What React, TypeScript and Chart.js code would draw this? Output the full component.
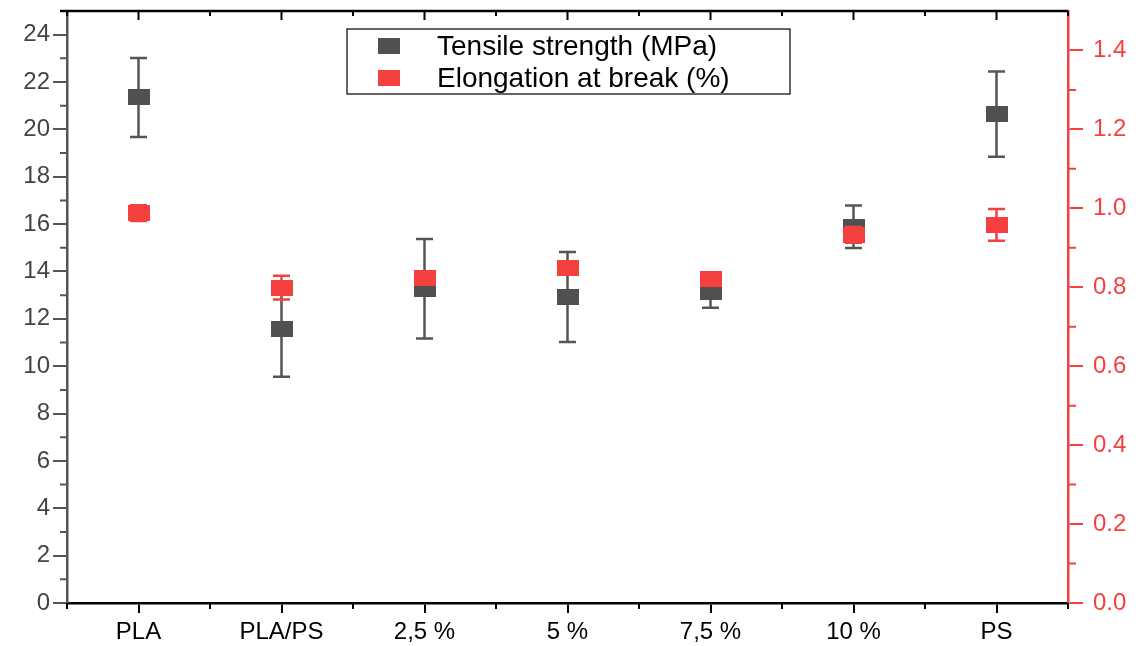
import React, { useEffect, useRef } from 'react';
import { Chart, registerables } from 'chart.js';

Chart.register(...registerables);

const categories = ['PLA', 'PLA/PS', '2,5 %', '5 %', '7,5 %', '10 %', 'PS'];
const tensileStrength = [21.35, 11.55, 13.27, 12.92, 13.15, 15.89, 20.65];
const tensileError = [1.67, 2.0, 2.1, 1.9, 0.68, 0.9, 1.8];
const elongationAtBreak = [0.988, 0.799, 0.823, 0.85, 0.82, 0.933, 0.958];
const elongationError = [0.02, 0.03, 0.015, 0.015, 0.015, 0.02, 0.04];
const seriesLabels = ['Tensile strength (MPa)', 'Elongation at break (%)'];

const GRAY = '#505050';
const RED = 'rgb(245,64,64)';
const FONT = '"Liberation Sans", Arial, sans-serif';

function makeMarker(color: string) {
  const c = document.createElement('canvas');
  c.width = 22;
  c.height = 16;
  const g = c.getContext('2d')!;
  g.fillStyle = color;
  g.fillRect(0, 0, 22, 16);
  return c;
}

const errorBarPlugin = {
  id: 'errorBars',
  beforeDatasetDraw(chart: any, args: any) {
    const ds = chart.data.datasets[args.index];
    const errs: number[] = ds.errors;
    if (!errs) return;
    const meta = args.meta;
    const yScale = chart.scales[meta.yAxisID];
    const ctx = chart.ctx;
    ctx.save();
    ctx.strokeStyle = ds.errorColor;
    ctx.lineWidth = 2.5;
    meta.data.forEach((el: any, i: number) => {
      const v = ds.data[i];
      const e = errs[i];
      const x = el.x;
      const yT = yScale.getPixelForValue(v + e);
      const yB = yScale.getPixelForValue(v - e);
      ctx.beginPath();
      ctx.moveTo(x, yT);
      ctx.lineTo(x, yB);
      ctx.moveTo(x - 8.5, yT);
      ctx.lineTo(x + 8.5, yT);
      ctx.moveTo(x - 8.5, yB);
      ctx.lineTo(x + 8.5, yB);
      ctx.stroke();
    });
    ctx.restore();
  },
};

const framePlugin = {
  id: 'frame',
  afterDraw(chart: any) {
    const ctx = chart.ctx;
    const { left, right, top, bottom } = chart.chartArea;
    const x = chart.scales.x;
    const y = chart.scales.y;
    const y1 = chart.scales.y1;
    ctx.save();
    // top axis
    ctx.strokeStyle = '#000';
    ctx.lineWidth = 2.5;
    ctx.beginPath();
    ctx.moveTo(left - 7, top);
    ctx.lineTo(right, top);
    ctx.stroke();
    ctx.lineWidth = 2;
    const n = categories.length;
    const bounds: number[] = [];
    for (let i = 0; i <= n; i++) {
      if (i === 0) bounds.push(left);
      else if (i === n) bounds.push(right);
      else bounds.push((x.getPixelForValue(i - 1) + x.getPixelForValue(i)) / 2);
    }
    ctx.beginPath();
    for (let i = 0; i < n; i++) {
      const px = x.getPixelForValue(i);
      ctx.moveTo(px, top);
      ctx.lineTo(px, top + 9);
    }
    bounds.forEach((px) => {
      ctx.moveTo(px, top);
      ctx.lineTo(px, top + 5);
      ctx.moveTo(px, bottom);
      ctx.lineTo(px, bottom + 6);
    });
    ctx.stroke();
    // left minor ticks
    ctx.strokeStyle = '#555';
    ctx.beginPath();
    for (let v = 1; v < 25; v += 2) {
      const py = y.getPixelForValue(v);
      ctx.moveTo(left - 7, py);
      ctx.lineTo(left, py);
    }
    ctx.stroke();
    // right minor ticks
    ctx.strokeStyle = RED;
    ctx.beginPath();
    for (let k = 1; k < 15; k += 2) {
      const py = y1.getPixelForValue(k / 10);
      ctx.moveTo(right, py);
      ctx.lineTo(right + 8, py);
    }
    ctx.stroke();
    ctx.restore();
  },
};

const legendPlugin = {
  id: 'boxLegend',
  afterDraw(chart: any) {
    const ctx = chart.ctx;
    const { left, top } = chart.chartArea;
    const bx = left + 280;
    const by = top + 18;
    const bw = 443;
    const bh = 65;
    ctx.save();
    ctx.fillStyle = '#fff';
    ctx.fillRect(bx, by, bw, bh);
    ctx.strokeStyle = '#000';
    ctx.lineWidth = 1.2;
    ctx.strokeRect(bx, by, bw, bh);
    chart.data.datasets.forEach((ds: any, i: number) => {
      const cy = by + 17 + i * 32;
      ctx.drawImage(ds.pointStyle, bx + 31, cy - 8);
      ctx.fillStyle = '#000';
      ctx.font = `28px ${FONT}`;
      ctx.textBaseline = 'middle';
      ctx.textAlign = 'left';
      ctx.fillText(ds.label, bx + 90, cy + 1);
    });
    ctx.restore();
  },
};

export default function App() {
  const ref = useRef<HTMLCanvasElement>(null);
  useEffect(() => {
    document.body.style.margin = '0';
    const canvas = ref.current!;
    const chart = new Chart(canvas, {
      type: 'line',
      data: {
        labels: categories,
        datasets: [
          {
            label: seriesLabels[0],
            data: tensileStrength,
            yAxisID: 'y',
            showLine: false,
            pointStyle: makeMarker(GRAY) as any,
            pointRadius: 10,
            order: 2,
            errors: tensileError,
            errorColor: '#555',
          } as any,
          {
            label: seriesLabels[1],
            data: elongationAtBreak,
            yAxisID: 'y1',
            showLine: false,
            pointStyle: makeMarker(RED) as any,
            pointRadius: 10,
            order: 1,
            errors: elongationError,
            errorColor: RED,
          } as any,
        ],
      },
      options: {
        animation: false,
        responsive: false,
        layout: { padding: { top: 10, left: 0, right: 0, bottom: 0 } },
        plugins: { legend: { display: false }, tooltip: { enabled: false } },
        scales: {
          x: {
            type: 'category',
            offset: true,
            position: 'bottom',
            border: { color: '#000', width: 2.5 },
            grid: { drawOnChartArea: false, drawTicks: true, tickLength: 10, color: '#000', lineWidth: 2 },
            ticks: { font: { family: FONT, size: 24 }, color: '#000', padding: 5 },
            afterFit: (s: any) => { s.height = 43; s.paddingLeft = 0; s.paddingRight = 0; },
          },
          y: {
            type: 'linear',
            position: 'left',
            min: 0,
            max: 25,
            border: { color: '#555', width: 2.5 },
            grid: { drawOnChartArea: false, drawTicks: true, tickLength: 14, color: '#555', lineWidth: 2 },
            ticks: { stepSize: 2, includeBounds: false, font: { family: FONT, size: 24 }, color: '#444', padding: 3 },
            afterFit: (s: any) => { s.width = 67; s.paddingTop = 0; s.paddingBottom = 0; },
          },
          y1: {
            type: 'linear',
            position: 'right',
            min: 0,
            max: 1.5,
            border: { color: RED, width: 2.5 },
            grid: { drawOnChartArea: false, drawTicks: true, tickLength: 15, color: RED, lineWidth: 2 },
            ticks: {
              stepSize: 0.2,
              includeBounds: false,
              font: { family: FONT, size: 24 },
              color: RED,
              padding: 10,
              callback: (v: any) => Number(v).toFixed(1),
            },
            afterFit: (s: any) => { s.width = 70; s.paddingTop = 0; s.paddingBottom = 0; },
          },
        },
      } as any,
      plugins: [errorBarPlugin, framePlugin, legendPlugin],
    });
    return () => chart.destroy();
  }, []);
  return (
    <div style={{ width: 1138, height: 646, background: '#fff' }}>
      <canvas ref={ref} width={1138} height={646} style={{ width: 1138, height: 646 }} />
    </div>
  );
}
